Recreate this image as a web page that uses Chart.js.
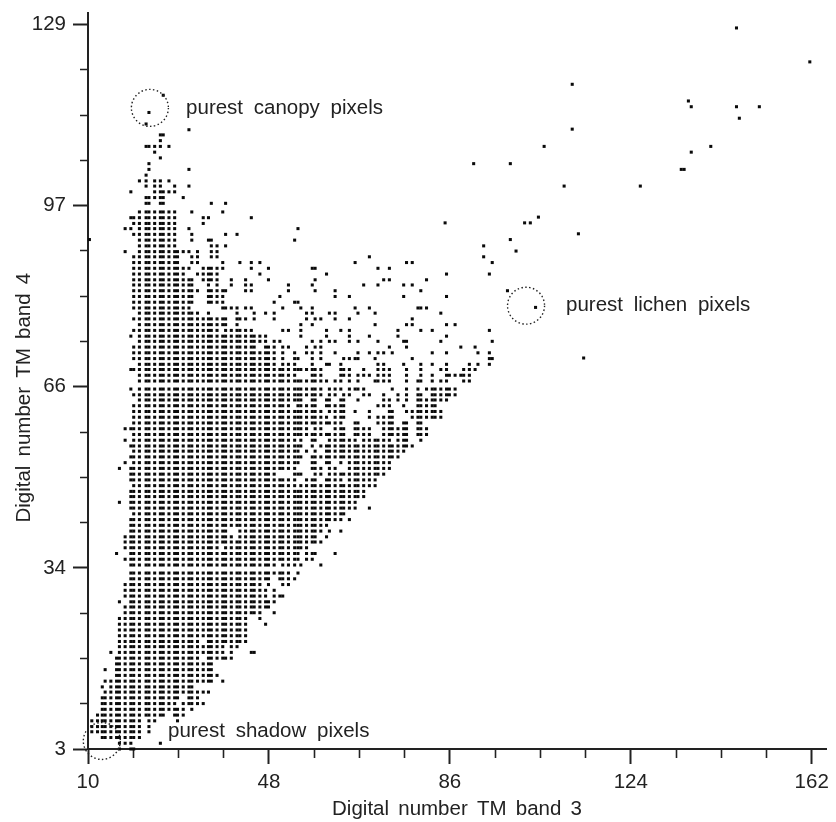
<!DOCTYPE html>
<html>
<head>
<meta charset="utf-8">
<title>TM band 3 / band 4 scatter</title>
<script src="https://cdn.jsdelivr.net/npm/chart.js@4"></script>
<style>
  html, body { margin: 0; padding: 0; background: #fff; }
  #wrap { width: 836px; height: 822px; }
</style>
</head>
<body>
<div id="wrap"><canvas id="scatter" width="836" height="822"></canvas></div>
<script>
// Axis ticks (every 4th one is labelled)
const xTickValues = [10, 19.5, 29, 38.5, 48, 57.5, 67, 76.5, 86, 95.5, 105, 114.5, 124, 133.5, 143, 152.5, 162];
const xTickLabels = ['10', '', '', '', '48', '', '', '', '86', '', '', '', '124', '', '', '', '162'];
const yTickValues = [3, 10.875, 18.75, 26.625, 34.5, 42.375, 50.25, 58.125, 66, 73.875, 81.75, 89.625, 97.5, 105.375, 113.25, 121.125, 129];
const yTickLabels = ['3', '', '', '', '34', '', '', '', '66', '', '', '', '97', '', '', '', '129'];

// Where each band 3 column sits in the picture, column 10 first
const columnValues = [
  10.0, 10.8, 12.0, 13.0, 13.6, 14.8, 16.0, 16.6, 17.8, 19.0,
  19.6, 20.8, 22.2, 22.8, 24.0, 25.2, 25.8, 27.0, 28.2, 28.8,
  30.0, 31.2, 31.8, 33.0, 34.2, 35.3, 35.9, 37.1, 38.3, 38.9,
  40.1, 41.3, 41.9, 43.1, 44.3, 44.9, 46.1, 47.3, 47.9, 49.1,
  50.3, 50.9, 52.1, 53.4, 54.1, 54.7, 55.9, 57.1, 57.7, 58.9,
  60.1, 60.7, 61.9, 63.1, 63.7, 64.9, 66.1, 66.7, 67.9, 69.1,
  70.3, 70.9, 72.1, 73.3, 73.9, 75.1, 76.3, 76.9, 78.1, 79.3,
  79.9, 81.1, 82.3, 82.9, 84.1, 85.3, 85.9, 87.1, 88.3, 88.9,
  90.1, 91.3, 91.9, 93.1, 94.3, 94.9, 96.1
];

// Where each band 4 row sits, bottom row first (matches rowRuns line by line)
const rowValues = [
  3.0, 4.0, 5.0, 6.0, 6.9, 7.9, 8.9, 9.9, 10.9, 11.9, 12.9, 13.8, 14.8, 15.8, 16.8, 17.8,
  18.8, 19.8, 20.8, 21.7, 22.7, 23.7, 24.7, 25.7, 26.7, 27.7, 28.6, 29.6, 30.6, 31.6, 32.6, 33.6,
  35.0, 36.0, 37.0, 38.0, 39.0, 39.9, 40.9, 41.9, 42.9, 43.9, 44.9, 45.9, 46.9, 47.8, 48.8, 49.8,
  50.8, 51.8, 52.8, 53.8, 54.8, 55.7, 56.7, 57.7, 58.7, 59.7, 60.7, 61.7, 62.7, 63.7, 64.6, 65.6,
  67.0, 68.0, 69.0, 69.9, 70.9, 71.9, 72.9, 73.9, 74.8, 75.8, 76.8, 77.8, 78.8, 79.7, 80.7, 81.7,
  82.7, 83.7, 84.6, 85.6, 86.6, 87.6, 88.6, 89.5, 90.5, 91.5, 92.5, 93.5, 94.4, 95.4, 96.4,
  97.9, 98.9, 99.9, 100.9, 101.8, 102.8, 103.8, 104.8, 105.8, 106.8, 107.8, 108.8, 109.8, 110.7,
  111.7, 112.7, 113.7, 114.7, 115.7, 116.7
];

// Occupied columns per row: n = one column, [a, b] = a filled stretch
const rowRuns = [
  [17, [19, 20]],
  [17, 18, 19, 25],
  [[13, 21]],
  [[11, 21], 23],
  [[11, 21], 23],
  [[11, 21], 23, 24, 29],
  [[12, 26], [28, 30]],
  [[13, 30], 32],
  [[13, 28], [30, 34]],
  [[13, 29], [31, 33]],
  [[14, 35]],
  [13, [15, 32]],
  [[14, 36], 38],
  [[16, 37]],
  [14, [16, 36]],
  [[16, 36]],
  [[16, 33], [35, 40]],
  [15, [17, 38], 40, 44, 45],
  [[17, 38], 40, 41],
  [[17, 33], [35, 43]],
  [[17, 43]],
  [[17, 43]],
  [[17, 43], 47],
  [[17, 43], 46],
  [[18, 46], 49],
  [[18, 48]],
  [17, [19, 49]],
  [[18, 47], 49, 50, 51],
  [[18, 46], 47, 49],
  [[18, 46], 48, 51, 52],
  [[19, 48], 50, 51, 52, 53],
  [[19, 50], 51, 52, 54],
  [[19, 49], [51, 53], 55, 59],
  [[18, 54], 56, 57],
  [16, [19, 54], [56, 58], 62],
  [[18, 37], [39, 56]],
  [[18, 59]],
  [[18, 40], [42, 58], 60],
  [[19, 39], [42, 59], 61, 63],
  [[19, 60]],
  [[19, 63], 65],
  [[20, 64]],
  [[19, 66], 69],
  [17, [19, 66]],
  [[19, 68]],
  [[19, 68]],
  [[20, 53], [55, 70]],
  [[19, 53], [56, 58], [60, 63], [65, 70]],
  [[19, 49], [53, 55], 58, 59, [61, 72]],
  [17, [19, 53], [57, 59], 61, 62, [65, 73]],
  [18, [20, 54], 57, 58, 60, 61, 63, [65, 73]],
  [[19, 55], [57, 75]],
  [[20, 54], 56, 58, [60, 76]],
  [[19, 55], 57, [59, 78]],
  [18, [20, 53], 55, 57, 58, [61, 66], [68, 73], [75, 77], 80],
  [[20, 64], 66, [67, 69], [72, 77], [79, 81]],
  [18, [19, 56], 58, 59, [62, 64], [66, 69], [72, 77], [79, 81]],
  [[20, 63], 66, 67, [71, 74], 76, 77, 79, 80],
  [[20, 60], 62, 63, 64, 69, [71, 74], [78, 84]],
  [[20, 52], [53, 59], [61, 64], 66, 69, 73, 74, [77, 84]],
  [[20, 52], [54, 58], [60, 64], 71, 72, 73, 76, [79, 83]],
  [[21, 55], 57, 58, 60, 61, 63, 64, 67, 72, 73, 75, 77, [79, 85]],
  [[20, 59], 61, 62, 64, 65, 68, 69, 72, 75, 77, 79, 80, [82, 87]],
  [19, [21, 59], [61, 63], 65, [66, 68], 74, 77, 79, 81, [82, 87]],
  [[21, 60], 62, 63, 65, 67, [70, 73], 77, 79, 80, 82, 84, 85, 89, 90],
  [[21, 53], 57, 58, 59, 63, 64, 65, [67, 69], [71, 73], 77, 80, 82, [85, 90]],
  [[19, 59], 63, 64, 65, 68, [71, 73], 77, 80, 84, 85, 89, 90, 91],
  [[21, 49], 51, 52, 53, 57, 60, 61, 63, 71, 72, 76, 80, 82, 85, 90, 92, 94],
  [[20, 49], 51, 53, 54, 57, 59, 64, 65, 66, 67, 70, 78, 94, 95],
  [[20, 49], 51, 53, 56, 57, 59, 62, 67, 69, 71, 72, 74, 82, 85, 92, 94],
  [[20, 45], [47, 49], 51, 52, 56, 58, 59, 73, 77, 88, 91],
  [[21, 47], 49, 50, 57, 59, 61, 62, 65, 67, 71, 76, 77, 84, 95],
  [19, [21, 47], 55, 60, 65, 69, 75, 85],
  [[20, 37], [39, 44], 51, 52, 55, 60, 63, 65, 75, 80, 82, 94],
  [[21, 37], 38, 39, 41, 55, 57, 70, 77, 78, 85, 87],
  [[20, 39], [41, 43], 45, 49, 56, 58, 59, 62, 65, 78],
  [[21, 33], 35, 41, 45, 47, 49, 56, 57, 61, 62, 67, 70, 84],
  [[20, 31], [38, 41], 43, 44, 51, 55, 57, 66, 69, 79, 80, 81],
  [[20, 32], [35, 38], 49, 53, 54],
  [[20, 32], [35, 38], 50, 62, 65, 76, 85],
  [[20, 33], [35, 39], 43, 44, 52, 58, 62, 80],
  [[20, 32], 35, 37, 40, 43, 44, 52, 57, 68, 71, 76, 78],
  [[20, 32], [34, 37], 40, 43, 48, 58, 72, 73, 81],
  [[20, 30], [33, 37], 46, 60, 85, 94],
  [[20, 31], [34, 38], 44, 48, 57, 58, 71, 73],
  [[20, 29], 32, 33, 38, 42, 44, 46, 66, 77, 78, 95],
  [[20, 29], 32, 33, 36, 37, 69, 93],
  [18, [21, 31], 33, 36, 37],
  [[21, 28], 36, 37, 39, 93],
  [[21, 28], 32, 35, 36, 53],
  [20, [21, 28], 32, 39, 41],
  [18, 19, [21, 28], 31, 54],
  [20, [21, 28], 34],
  [19, 20, [21, 28], 34, 35, 44],
  [[21, 28], 32, 38],
  [22, 23, 25, 26, 36, 39],
  [22, 23, 24, 25, 26, 30],
  [19, [24, 28]],
  [22, 24, 25, 28, 31],
  [21, 22, 24, 25, 27],
  [22],
  [23, 31],
  [23],
  [25],
  [24],
  [22, 23, 24, 25, 27],
  [25],
  [25, 26],
  [31],
  [22],
  [],
  [23],
  [],
  [],
  [26]
];

// Loose pixels outside the rows above
const looseX = [
  10.3, 85.0, 91.0, 98.1, 98.7, 98.7, 99.9, 101.7, 102.9, 104.0, 104.6, 105.8, 110.0, 111.7, 111.7,
  113.0, 114.1, 126.0, 134.6, 135.2, 136.1, 136.7, 136.7, 140.8, 146.2, 146.2, 146.8, 151.0, 161.6
];
const looseY = [
  91.6, 94.5, 104.8, 82.7, 91.6, 104.8, 89.6, 94.5, 94.5, 79.8, 95.5, 107.8, 100.9, 110.8, 118.6,
  92.6, 71.0, 100.9, 103.8, 103.8, 115.7, 106.8, 114.7, 107.8, 128.4, 114.7, 112.7, 114.7, 122.5
];

// Dotted circles and their captions
const circleX = [23.0, 102.0, 12.9];
const circleY = [114.5, 80.1, 4.4];
const captionLabels = ['purest canopy pixels', 'purest lichen pixels', 'purest shadow pixels'];
const captionX = [30.6, 110.4, 26.8];
const captionY = [113.4, 79.2, 5.1];

const inkColor = '#222';
const fontFamily = '"Liberation Sans", Arial, sans-serif';
const textSize = 20.5;

function buildPoints() {
  const points = [];
  rowRuns.forEach((runs, rowIndex) => {
    runs.forEach(run => {
      const from = Array.isArray(run) ? run[0] : run;
      const to = Array.isArray(run) ? run[1] : run;
      for (let col = from; col <= to; col++) {
        points.push({ x: columnValues[col - 10], y: rowValues[rowIndex] });
      }
    });
  });
  looseX.forEach((x, i) => points.push({ x: x, y: looseY[i] }));
  return points;
}

// Dotted circles, captions and the off-centre y title are placed through the scales
const annotationPlugin = {
  id: 'annotations',
  beforeDraw(chart) {
    chart.ctx.wordSpacing = '3.5px';
  },
  afterDatasetsDraw(chart) {
    const { ctx, scales } = chart;
    ctx.save();
    ctx.strokeStyle = '#222';
    ctx.lineWidth = 1.4;
    ctx.setLineDash([1.5, 2.4]);
    circleX.forEach((x, i) => {
      ctx.beginPath();
      ctx.arc(scales.x.getPixelForValue(x), scales.y.getPixelForValue(circleY[i]), 18.5, 0, Math.PI * 2);
      ctx.stroke();
    });
    ctx.setLineDash([]);
    ctx.fillStyle = inkColor;
    ctx.font = textSize + 'px ' + fontFamily;
    ctx.textBaseline = 'alphabetic';
    ctx.wordSpacing = '5px';
    captionLabels.forEach((label, i) => {
      ctx.fillText(label, scales.x.getPixelForValue(captionX[i]), scales.y.getPixelForValue(captionY[i]));
    });
    ctx.wordSpacing = '3.5px';
    ctx.translate(30, scales.y.getPixelForValue(64.1));
    ctx.rotate(-Math.PI / 2);
    ctx.textAlign = 'center';
    ctx.fillText('Digital number TM band 4', 0, 0);
    ctx.restore();
  }
};

new Chart(document.getElementById('scatter'), {
  type: 'scatter',
  data: {
    datasets: [{
      data: buildPoints(),
      backgroundColor: '#0a0a0a',
      borderWidth: 0,
      pointStyle: 'rect',
      pointRadius: 2.15,
      clip: false
    }]
  },
  options: {
    responsive: false,
    animation: false,
    layout: { autoPadding: false, padding: { top: 13, right: 10 } },
    plugins: { legend: { display: false }, tooltip: { enabled: false } },
    scales: {
      x: {
        type: 'linear',
        min: 10,
        max: 165,
        afterBuildTicks: scale => { scale.ticks = xTickValues.map(v => ({ value: v })); },
        afterFit: scale => { scale.height = 73; scale.paddingLeft = 0; scale.paddingRight = 0; },
        border: { color: inkColor, width: 2 },
        grid: {
          drawOnChartArea: false,
          tickLength: 15,
          tickColor: inkColor,
          tickWidth: ctx => (ctx.index % 4 === 0 ? 2 : 1.6),
          tickBorderDash: ctx => (ctx.index % 4 === 0 ? [] : [8, 100])
        },
        ticks: {
          autoSkip: false,
          maxRotation: 0,
          color: inkColor,
          padding: 6,
          font: { family: fontFamily, size: textSize },
          callback: (value, index) => xTickLabels[index]
        },
        title: {
          display: true,
          text: 'Digital number TM band 3',
          color: inkColor,
          font: { family: fontFamily, size: textSize },
          padding: { top: 0, bottom: 0 }
        }
      },
      y: {
        type: 'linear',
        min: 3,
        max: 131,
        afterBuildTicks: scale => { scale.ticks = yTickValues.map(v => ({ value: v })); },
        afterFit: scale => { scale.width = 88; scale.paddingTop = 0; scale.paddingBottom = 0; },
        border: { color: inkColor, width: 2 },
        grid: {
          drawOnChartArea: false,
          tickLength: 15,
          tickColor: inkColor,
          tickWidth: ctx => (ctx.index % 4 === 0 ? 2 : 1.6),
          tickBorderDash: ctx => (ctx.index % 4 === 0 ? [] : [0, 7, 8, 100])
        },
        ticks: {
          autoSkip: false,
          color: inkColor,
          padding: 7,
          font: { family: fontFamily, size: textSize },
          callback: (value, index) => yTickLabels[index]
        }
      }
    }
  },
  plugins: [annotationPlugin]
});
</script>
</body>
</html>
